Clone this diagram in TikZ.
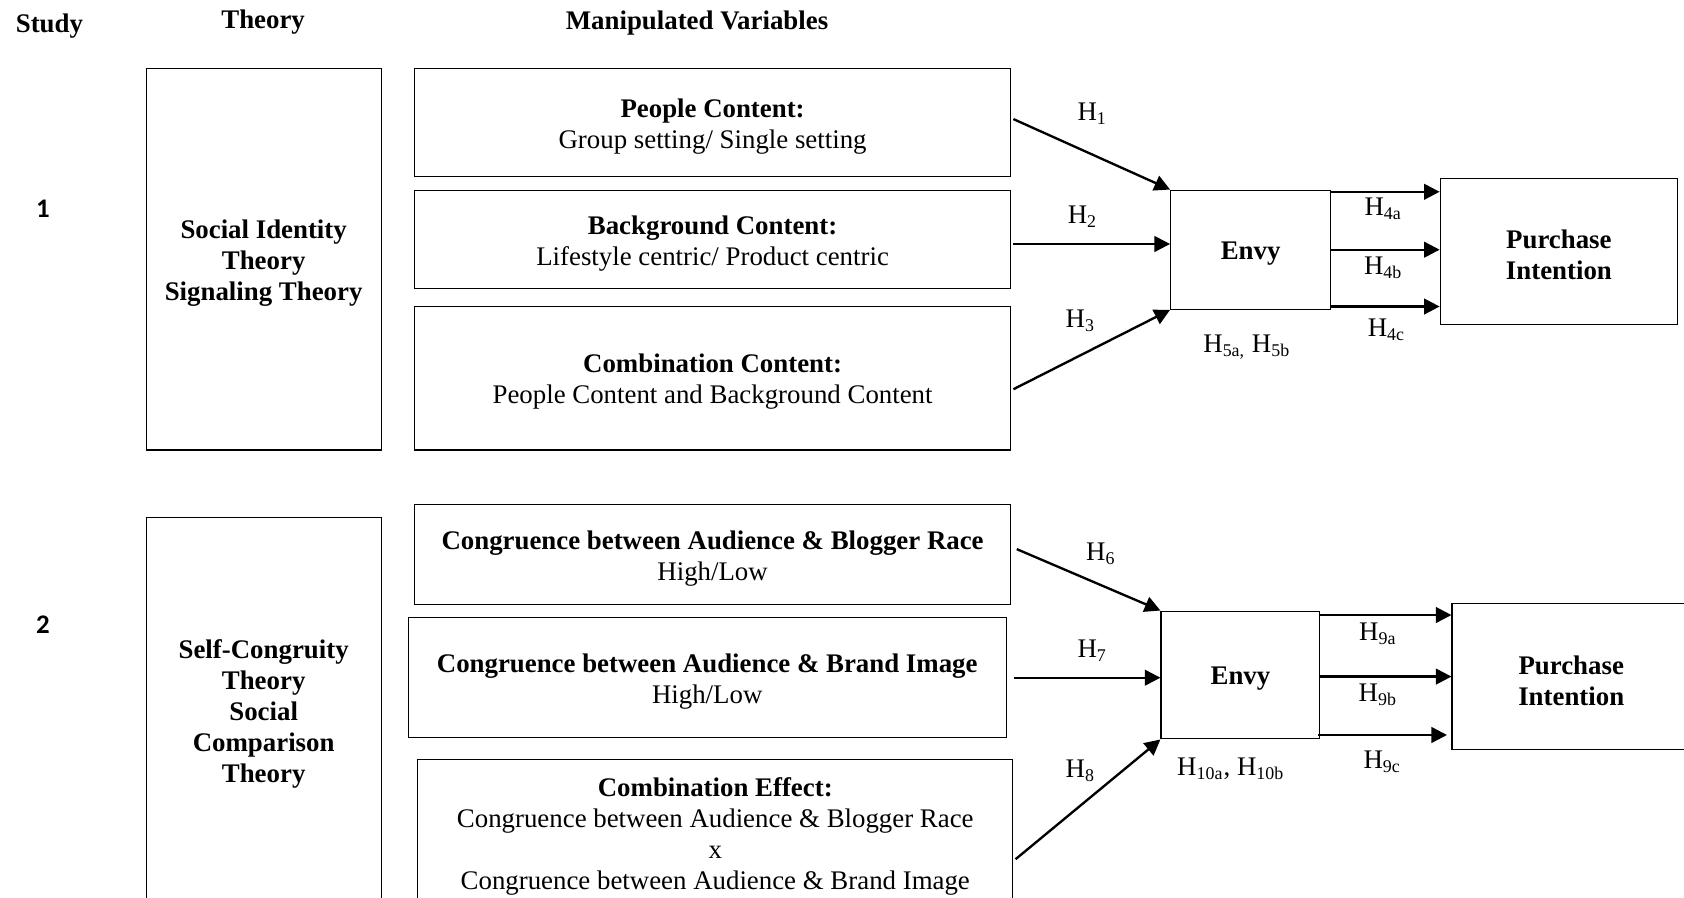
\documentclass[tikz,border=0pt]{standalone}
\usepackage{fontspec}
\setmainfont{Liberation Serif}
\newfontfamily\numfont{Carlito}
\usetikzlibrary{arrows.meta}
\begin{document}
\begin{tikzpicture}[x=0.48pt,y=-0.48pt,
  every node/.style={font=\fontsize{12}{13.9}\selectfont, inner sep=0pt},
  bx/.style 2 args={draw, line width=0.5pt, rectangle,
    minimum width=#1*0.48pt, minimum height=#2*0.48pt},
  tx/.style={align=center},
  hd/.style={font=\fontsize{12}{13.9}\selectfont\bfseries},
  num/.style={font=\fontsize{12}{14}\selectfont\numfont\bfseries},
  lbl/.style={font=\fontsize{12}{13.9}\selectfont},
  arr/.style={line width=1.05pt, -{Triangle[length=7pt,width=7pt]}},
]
\useasboundingbox (0,0) rectangle (1568,836);
\clip (0,0) rectangle (1568,836);
\fill[white] (0,0) rectangle (1568,836);

% headers
\node[hd] (hstudy) at (46,24) {Study};
\node[hd] (htheory) at (245,21) {Theory};
\node[hd] (hmanip) at (649,21) {Manipulated Variables};
\node[num] (s1) at (40,194) {1};
\node[num] (s2) at (40,582) {2};

% ---------- Study 1 ----------
\node[bx={219}{355}] (th1) at (245.5,241.5) {};
\node[tx] (th1t) at ([yshift=-1.7pt]th1.center)
  {\textbf{Social Identity}\\\textbf{Theory}\\\textbf{Signaling Theory}};
\node[bx={555}{100}] (pc) at (663.5,114) {};
\node[tx] (pct) at ([yshift=-1.7pt]pc.center)
  {\textbf{People Content:}\\Group setting/ Single setting};
\node[bx={555}{92}] (bc) at (663.5,223) {};
\node[tx] (bct) at ([yshift=-1.7pt]bc.center)
  {\textbf{Background Content:}\\Lifestyle centric/ Product centric};
\node[bx={555}{134}] (cc) at (663.5,352) {};
\node[tx] (cct) at ([yshift=-1.7pt]cc.center)
  {\textbf{Combination Content:}\\People Content and Background Content};
\node[bx={149}{111}] (env1) at (1164.5,232.5) {};
\node[tx] (env1t) at ([yshift=-1.7pt]env1.center) {\textbf{Envy}};
\node[bx={221}{136}] (pi1) at (1451.5,234) {};
\node[tx] (pi1t) at ([yshift=-1.7pt]pi1.center)
  {\textbf{Purchase}\\\textbf{Intention}};

\draw[arr] ([xshift=1pt,yshift=1.5pt]pc.east) -- (env1.north west);
\draw[arr] ([xshift=1pt,yshift=-2pt]bc.east) -- ([yshift=-2pt]bc.east -| env1.west);
\draw[arr] ([xshift=1pt,yshift=-5pt]cc.east) -- (env1.south west);
\draw[arr] ([yshift=-1pt]env1.north east) -- ([yshift=-1pt]env1.north east -| pi1.west);
\draw[arr] ([yshift=0pt]env1.east) -- ([yshift=0pt]env1.east -| pi1.west);
\draw[arr] ([yshift=1.5pt]env1.south east) -- ([yshift=1.5pt]env1.south east -| pi1.west);

\node[lbl] (h1) at (1017,106) {H\textsubscript{1}};
\node[lbl] (h2) at (1008,202) {H\textsubscript{2}};
\node[lbl] (h3) at (1006,299) {H\textsubscript{3}};
\node[lbl] (h4a) at (1288,194) {H\textsubscript{4a}};
\node[lbl] (h4b) at (1288,249) {H\textsubscript{4b}};
\node[lbl] (h4c) at (1291,307) {H\textsubscript{4c}};
\node[lbl] (h5) at (1161,323) {H\textsubscript{5a,} H\textsubscript{5b}};

% ---------- Study 2 ----------
\node[bx={219}{358}] (th2) at (245.5,661) {};
\node[tx] (th2t) at ([yshift=-1.7pt]th2.center)
  {\textbf{Self-Congruity}\\\textbf{Theory}\\\textbf{Social}\\\textbf{Comparison}\\\textbf{Theory}};
\node[bx={555}{93}] (rc) at (663.5,516.5) {};
\node[tx] (rct) at ([yshift=-1.7pt]rc.center)
  {\textbf{Congruence between Audience \& Blogger Race}\\High/Low};
\node[bx={557}{112}] (bi) at (658.5,631) {};
\node[tx] (bit) at ([yshift=-1.7pt]bi.center)
  {\textbf{Congruence between Audience \& Brand Image}\\High/Low};
\node[bx={554}{136}] (ce) at (666,775) {};
\node[tx] (cet) at ([yshift=-1.7pt]ce.center)
  {\textbf{Combination Effect:}\\Congruence between Audience \& Blogger Race\\x\\Congruence between Audience \& Brand Image};
\node[bx={148}{119}] (env2) at (1155,628.5) {};
\node[tx] (env2t) at ([yshift=-1.7pt]env2.center) {\textbf{Envy}};
\node[bx={222}{136}] (pi2) at (1463,630) {};
\node[tx] (pi2t) at ([yshift=-1.7pt]pi2.center)
  {\textbf{Purchase}\\\textbf{Intention}};

\draw[arr] ([xshift=2.5pt,yshift=2.5pt]rc.east) -- (env2.north west);
\draw[arr] ([xshift=3pt,yshift=0pt]bi.east) -- (bi.east -| env2.west);
\draw[arr] ([xshift=1pt,yshift=-12pt]ce.east) -- (env2.south west);
\draw[arr] ([yshift=-2pt]env2.north east) -- ([yshift=-2pt]env2.north east -| pi2.west);
\draw[arr] ([yshift=-0.7pt]env2.east) -- ([yshift=-0.7pt]env2.east -| pi2.west);
\draw[arr] ([xshift=-1pt,yshift=2pt]env2.south east) -- ([xshift=-2pt,yshift=2pt]env2.south east -| pi2.west);

\node[lbl] (h6) at (1025,516) {H\textsubscript{6}};
\node[lbl] (h7) at (1017,606) {H\textsubscript{7}};
\node[lbl] (h8) at (1006,718) {H\textsubscript{8}};
\node[lbl] (h9a) at (1283,590) {H\textsubscript{9a}};
\node[lbl] (h9b) at (1283,647) {H\textsubscript{9b}};
\node[lbl] (h9c) at (1287,709) {H\textsubscript{9c}};
\node[lbl] (h10) at (1146,716) {H\textsubscript{10a}, H\textsubscript{10b}};
\end{tikzpicture}
\end{document}
